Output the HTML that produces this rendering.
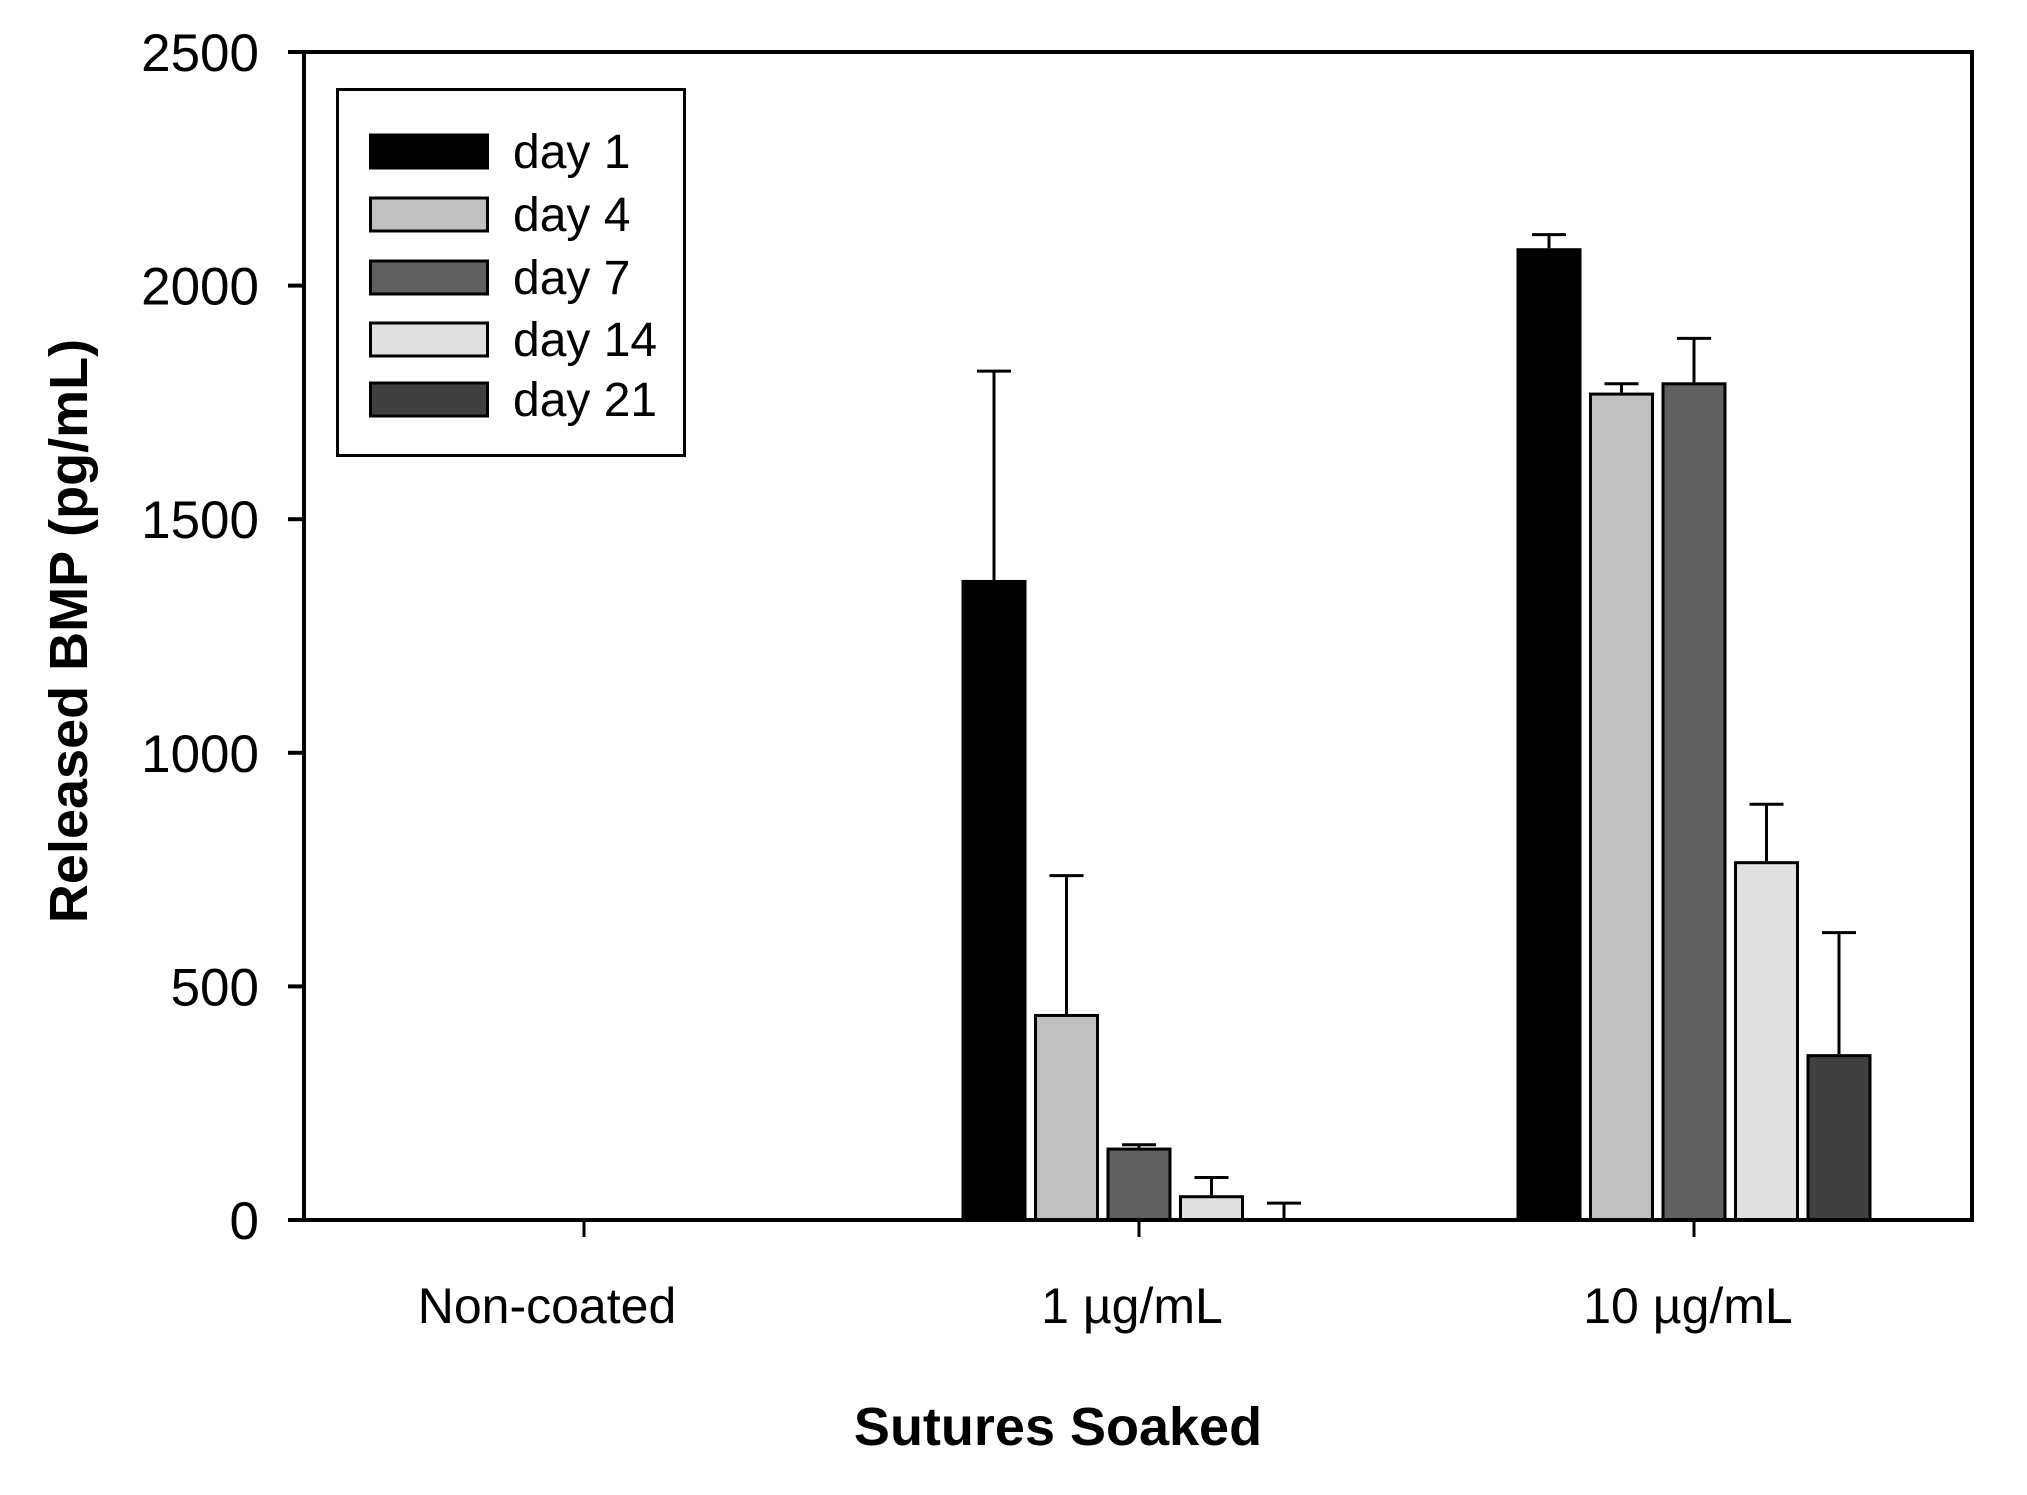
<!DOCTYPE html>
<html><head><meta charset="utf-8"><style>
html,body{margin:0;padding:0;background:#fff;}
svg{display:block;}
text{font-family:"Liberation Sans",Arial,sans-serif;fill:#000;}
</style></head><body>
<svg id="chart" width="2027" height="1495" viewBox="0 0 2027 1495">
<g id="plot"></g>
</svg>
<script>
const categories = ["Non-coated", "1 \u00b5g/mL", "10 \u00b5g/mL"];
const seriesNames = ["day 1", "day 4", "day 7", "day 14", "day 21"];
const day1 = [0, 1370, 2080];
const day4 = [0, 441, 1771];
const day7 = [0, 155, 1793];
const day14 = [0, 53, 768];
const day21 = [0, 0, 355];
const err1 = [0, 447, 29];
const err4 = [0, 296, 19];
const err7 = [0, 6, 94];
const err14 = [0, 38, 122];
const err21 = [0, 36, 260];
const yTicks = [0, 500, 1000, 1500, 2000, 2500];

const values = [day1, day4, day7, day14, day21];
const errors = [err1, err4, err7, err14, err21];
const fills = ["#000000", "#c0c0c0", "#606060", "#e0e0e0", "#404040"];
const L = 304, R = 1972, T = 52, B = 1220, YMAX = 2500;
const y = v => B - v * (B - T) / YMAX;
const xCenter = i => 584 + i * 555;
const barW = 65, step = 72.5;
const NS = "http://www.w3.org/2000/svg";
const g = document.getElementById('plot');
function mk(tag, attrs, parent) {
  const e = document.createElementNS(NS, tag);
  for (const k in attrs) e.setAttribute(k, attrs[k]);
  (parent || g).appendChild(e);
  return e;
}
// bars
categories.forEach((c, ci) => {
  values.forEach((s, si) => {
    const x0 = xCenter(ci) - (5 * step - (step - barW)) / 2 + si * step;
    const v = s[ci];
    if (v > 0) {
      const r = mk('rect', {x: x0 + 1.5, y: y(v) + 1.5, width: barW - 3, height: B - y(v) - 1.5, fill: fills[si], stroke: '#000', 'stroke-width': 3});
      
      
    }
    const e = errors[si][ci];
    if (e > 0) {
      const cx = x0 + barW / 2;
      const eg = mk('g', {stroke: '#000', 'stroke-width': 3});
      
      
      mk('line', {x1: cx, x2: cx, y1: y(v), y2: y(v + e)}, eg);
      mk('line', {x1: cx - 17, x2: cx + 17, y1: y(v + e), y2: y(v + e)}, eg);
    }
  });
});
// axes frame
const ax = mk('g', {stroke: '#000', 'stroke-width': 4, fill: 'none'});


mk('line', {x1: L, x2: R, y1: B, y2: B}, ax);
mk('line', {x1: L, x2: L, y1: T, y2: B}, ax);
mk('line', {x1: L - 16, x2: R + 2, y1: T, y2: T}, ax);
mk('line', {x1: R, x2: R, y1: T, y2: B + 2}, ax);
// y ticks
yTicks.forEach(t => {
  mk('line', {x1: L - 16, x2: L, y1: y(t), y2: y(t), stroke: '#000', 'stroke-width': 4});
  const tx = mk('text', {x: 259, y: y(t) + 19, 'text-anchor': 'end', 'font-size': 53});
  tx.textContent = t;
  
  
});
// x ticks
const labelCenters = [547, 1132, 1688];
categories.forEach((c, ci) => {
  mk('line', {x1: xCenter(ci), x2: xCenter(ci), y1: B, y2: B + 17, stroke: '#000', 'stroke-width': 3});
  const tx = mk('text', {x: labelCenters[ci], y: 1323, 'text-anchor': 'middle', 'font-size': 50});
  tx.textContent = c;
  
  
});
// titles
const xt = mk('text', {x: 1058, y: 1445, 'text-anchor': 'middle', 'font-size': 54, 'font-weight': 'bold'});
xt.textContent = 'Sutures Soaked';


const yt = mk('text', {x: 0, y: 0, 'text-anchor': 'middle', 'font-size': 54, 'font-weight': 'bold', transform: 'translate(87,631) rotate(-90)'});
yt.textContent = 'Released BMP (pg/mL)';


// legend
const lg = mk('g', {});


mk('rect', {x: 337.5, y: 89.5, width: 347, height: 366, fill: '#fff', stroke: '#000', 'stroke-width': 3}, lg);
const lyc = [151, 214, 277, 339, 399];
seriesNames.forEach((n, i) => {
  const eg = mk('g', {}, lg);
  
  
  mk('rect', {x: 370.5, y: lyc[i] - 16, width: 117, height: 33, fill: fills[i], stroke: '#000', 'stroke-width': 3}, eg);
  const t = mk('text', {x: 513, y: lyc[i] + 17, 'font-size': 48}, eg);
  t.textContent = n;
});
</script>
</body></html>
